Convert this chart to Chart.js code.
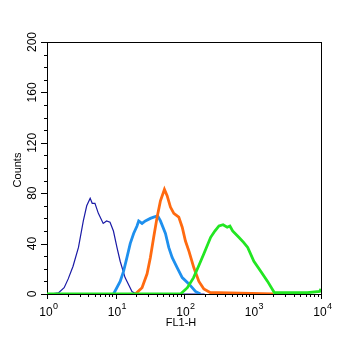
<!DOCTYPE html>
<html lang="en">
<head>
    <meta charset="UTF-8">
    <title>FL1-H Histogram</title>
    <script src="https://cdn.jsdelivr.net/npm/chart.js"></script>
    <style>
        body { margin: 0; background: #fff; }
        .wrap { width: 350px; height: 342px; position: relative; }
    </style>
</head>
<body>
    <div class="wrap"><canvas id="histChart"></canvas></div>

    <script>
        // FL1-H values (x) and counts (y)
        const navyX = [1.12, 1.48, 1.78, 2.04, 2.4, 2.88, 3.39, 3.8, 4.27, 4.57, 5.01, 5.62, 6.61, 7.41, 8.32, 9.33, 10.5, 11.7, 13.8, 17.4, 20, 200];
        const navyY = [0, 1, 5, 12, 22, 37, 58, 70, 76, 72, 72, 64, 56, 58, 57, 50, 37, 26, 13, 2, 0, 0];

        const skyX = [9.36, 11.7, 13.1, 14.7, 16.4, 18.4, 20.6, 21.8, 24.4, 27.3, 32.3, 36.1, 41.3, 45.3, 53.6, 59.9, 67.1, 79.4, 94.2, 118, 147, 174];
        const skyY = [0, 10, 18, 29, 40, 48, 54, 58, 56, 58, 60, 61, 62, 58, 48, 37, 29, 21, 13, 8, 2, 0];

        const orangeX = [19.5, 24.4, 28.9, 32.3, 36.1, 40.5, 45.3, 51.8, 56.7, 63.4, 71, 83.9, 94.2, 105, 118, 139, 165, 195, 244, 316, 2000];
        const orangeY = [0, 5, 16, 29, 45, 61, 74, 83, 78, 69, 64, 61, 53, 42, 34, 21, 10, 4, 1, 1, 0];

        const greenX = [1, 89, 112, 138, 166, 195, 245, 282, 324, 372, 427, 468, 513, 631, 741, 851, 1047, 1318, 1660, 2089, 3162, 6310, 9550, 10000];
        const greenY = [0, 0, 5, 13, 23, 32, 45, 50, 54, 55, 53, 54, 50, 45, 41, 37, 26, 18, 10, 1, 1, 1, 2, 4];

        const xTickExps = [0, 1, 2, 3, 4];
        const yTicks = [0, 40, 80, 120, 160, 200];

        function pts(xs, ys) {
            return xs.map((x, i) => ({ x: x, y: ys[i] }));
        }

        // frame, tick marks and labels
        const axesPlugin = {
            id: "axesPlugin",
            beforeDatasetsDraw(chart) {
                const { ctx, chartArea: a } = chart;
                ctx.save();
                ctx.strokeStyle = "#000";
                ctx.lineWidth = 1;
                ctx.strokeRect(a.left + 0.5, a.top + 0.5, a.right - a.left, a.bottom - a.top);
                ctx.restore();
            },
            afterDraw(chart) {
                const { ctx, chartArea: a, scales } = chart;
                const xs = scales.x, ys = scales.y;
                ctx.save();
                ctx.strokeStyle = "#000";
                ctx.fillStyle = "#000";
                ctx.lineWidth = 1;

                // y ticks
                ctx.beginPath();
                for (let v = 0; v <= 200; v += 10) {
                    const py = Math.round(ys.getPixelForValue(v)) + 0.5;
                    const len = v % 40 === 0 ? 6 : 3;
                    ctx.moveTo(a.left - len, py);
                    ctx.lineTo(a.left, py);
                }
                // x ticks
                for (let k = 0; k <= 4; k++) {
                    for (let m = 1; m <= 9; m++) {
                        if (k === 4 && m > 1) break;
                        const px = Math.round(xs.getPixelForValue(m * Math.pow(10, k))) + 0.5;
                        const len = m === 1 ? 5 : 3;
                        ctx.moveTo(px, a.bottom);
                        ctx.lineTo(px, a.bottom + len);
                    }
                }
                ctx.stroke();

                // y labels, rotated
                ctx.font = "12px 'Liberation Sans', Arial, sans-serif";
                ctx.textAlign = "center";
                ctx.textBaseline = "middle";
                yTicks.forEach(v => {
                    const py = ys.getPixelForValue(v);
                    ctx.save();
                    ctx.translate(33, py);
                    ctx.rotate(-Math.PI / 2);
                    ctx.fillText(String(v), 0, 0);
                    ctx.restore();
                });

                // x labels 10^n
                xTickExps.forEach(e => {
                    const px = xs.getPixelForValue(Math.pow(10, e));
                    ctx.font = "12px 'Liberation Sans', Arial, sans-serif";
                    ctx.textAlign = "center";
                    ctx.textBaseline = "alphabetic";
                    ctx.fillText("10", px - 1, 316);
                    ctx.font = "9px 'Liberation Sans', Arial, sans-serif";
                    ctx.textAlign = "left";
                    ctx.fillText(String(e), px + 6, 309);
                });

                // axis titles
                ctx.font = "11px 'Liberation Sans', Arial, sans-serif";
                ctx.textAlign = "center";
                ctx.textBaseline = "middle";
                ctx.fillText("FL1-H", 181, 323);
                ctx.save();
                ctx.translate(18, 170);
                ctx.rotate(-Math.PI / 2);
                ctx.fillText("Counts", 0, 0);
                ctx.restore();
                ctx.restore();
            }
        };

        const ctx = document.getElementById("histChart").getContext("2d");
        const histChart = new Chart(ctx, {
            type: "scatter",
            data: {
                datasets: [
                    { label: "green", data: pts(greenX, greenY), borderColor: "#22e622", borderWidth: 2.8 },
                    { label: "orange", data: pts(orangeX, orangeY), borderColor: "#ff6a10", borderWidth: 2.8 },
                    { label: "sky", data: pts(skyX, skyY), borderColor: "#1e90ee", borderWidth: 2.8 },
                    { label: "navy", data: pts(navyX, navyY), borderColor: "#1a1aa6", borderWidth: 1.2 }
                ].map(d => Object.assign(d, { showLine: true, pointRadius: 0, tension: 0, fill: false }))
            },
            options: {
                responsive: true,
                maintainAspectRatio: false,
                animation: false,
                layout: { padding: { left: 47, right: 29, top: 42, bottom: 48 } },
                plugins: {
                    legend: { display: false },
                    tooltip: { enabled: false }
                },
                scales: {
                    x: {
                        type: "logarithmic",
                        min: 1,
                        max: 10000,
                        ticks: { display: false },
                        grid: { display: false, drawTicks: false },
                        border: { display: false }
                    },
                    y: {
                        min: 0,
                        max: 200,
                        ticks: { display: false },
                        grid: { display: false, drawTicks: false },
                        border: { display: false }
                    }
                }
            },
            plugins: [axesPlugin]
        });
    </script>
</body>
</html>
